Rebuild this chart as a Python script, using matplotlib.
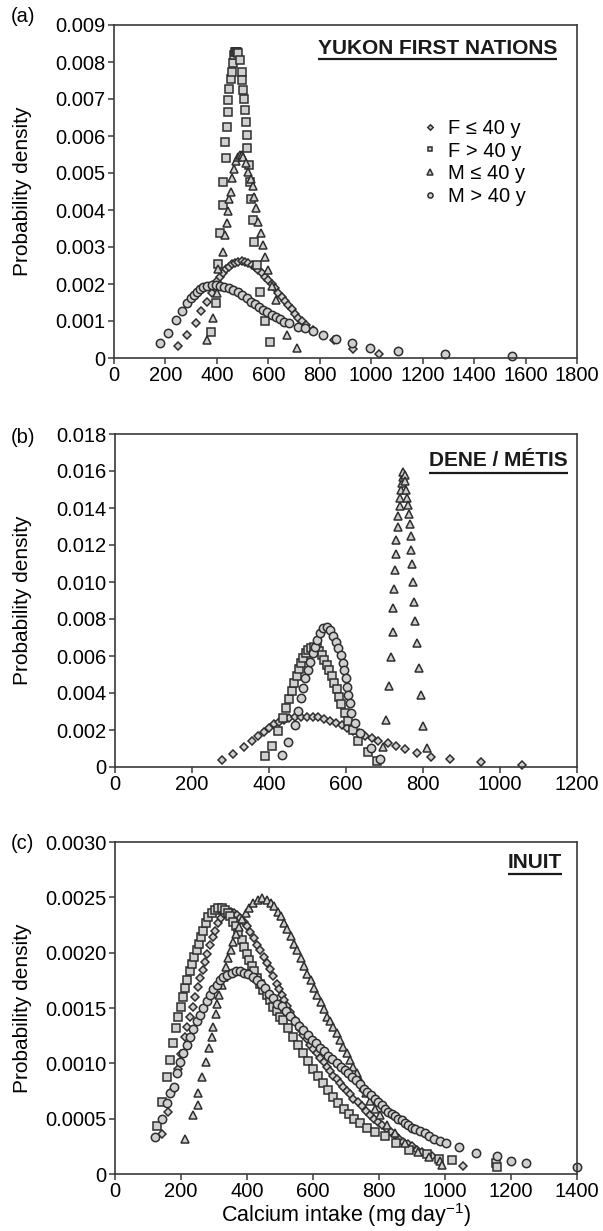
import matplotlib
matplotlib.use("Agg")
import matplotlib.pyplot as plt
from matplotlib.ticker import FixedLocator, FuncFormatter

plt.rcParams['font.family'] = ['Liberation Sans', 'DejaVu Sans']
plt.rcParams['mathtext.fontset'] = 'custom'
plt.rcParams['mathtext.rm'] = 'Liberation Sans'
plt.rcParams['mathtext.it'] = 'Liberation Sans:italic'
plt.rcParams['mathtext.bf'] = 'Liberation Sans:bold'

# ---- data (calcium intake mg/day, probability density) ----
legend_labels = ["F \u2264 40 y", "F > 40 y", "M \u2264 40 y", "M > 40 y"]

# (a) Yukon First Nations
a_f_le40_x = [250, 283, 318, 337, 360, 380, 393, 402, 412, 423, 434, 446, 457, 470, 483, 496, 509, 522, 535, 548,
              561, 574, 587, 600, 613, 626, 639, 652, 665, 678, 691, 704, 717, 730, 745, 775, 856, 929, 1029]
a_f_le40_y = [0.00033, 0.00062, 0.00095, 0.00127, 0.00152, 0.00175, 0.00195, 0.00208, 0.0022, 0.00231, 0.0024,
              0.00247, 0.00253, 0.00258, 0.0026, 0.00262, 0.0026, 0.00256, 0.00251, 0.00245, 0.00238, 0.00229,
              0.0022, 0.00211, 0.002, 0.00188, 0.00177, 0.00166, 0.00155, 0.00143, 0.00132, 0.0012, 0.00109,
              0.00099, 0.00089, 0.00075, 0.00048, 0.00025, 0.00012]
a_f_gt40_x = [377, 397, 406, 412, 423, 425, 435, 433, 438, 442, 444, 448, 455, 457, 461, 466, 470, 474, 478, 483,
              490, 496, 499, 503, 505, 508, 513, 516, 518, 525, 529, 531, 539, 544, 557, 568, 587, 606]
a_f_gt40_y = [0.00071, 0.00148, 0.00254, 0.00339, 0.00414, 0.00477, 0.0054, 0.00585, 0.00625, 0.00666, 0.00697,
              0.00726, 0.00753, 0.00774, 0.00796, 0.00819, 0.00826, 0.00828, 0.00827, 0.00823, 0.00805, 0.00774,
              0.00751, 0.00724, 0.00699, 0.0067, 0.00639, 0.00603, 0.00567, 0.00521, 0.00477, 0.00429, 0.00373,
              0.00314, 0.00251, 0.00179, 0.001, 0.00044]
a_m_le40_x = [360, 384, 399, 406, 423, 432, 438, 442, 448, 453, 460, 468, 476, 483, 490, 497, 503, 513, 522, 531,
              539, 544, 552, 561, 570, 578, 587, 598, 613, 629, 674, 713]
a_m_le40_y = [0.00049, 0.00107, 0.00175, 0.0024, 0.00287, 0.00332, 0.00366, 0.00398, 0.00429, 0.0045, 0.00486,
              0.00512, 0.00532, 0.00544, 0.00549, 0.00549, 0.00544, 0.00526, 0.00504, 0.00485, 0.00465, 0.00436,
              0.00405, 0.00368, 0.00337, 0.00305, 0.00274, 0.00238, 0.00195, 0.00157, 0.00062, 0.00026]
a_m_gt40_x = [179, 211, 241, 263, 283, 298, 311, 321, 334, 347, 363, 380, 397, 412, 429, 446, 464, 481, 499, 516,
              533, 548, 564, 581, 596, 613, 630, 645, 662, 682, 717, 743, 775, 814, 865, 925, 997, 1104, 1287, 1546]
a_m_gt40_y = [0.0004, 0.00067, 0.00103, 0.00127, 0.00148, 0.00161, 0.0017, 0.00179, 0.00186, 0.00193, 0.00195,
              0.00197, 0.00197, 0.00195, 0.00193, 0.0019, 0.00184, 0.00178, 0.0017, 0.00161, 0.00152, 0.00146,
              0.00139, 0.0013, 0.00123, 0.00116, 0.0011, 0.00105, 0.00098, 0.00094, 0.00085, 0.0008, 0.00073,
              0.00062, 0.00052, 0.00041, 0.00028, 0.0002, 0.0001, 0.00005]

# (b) Dene / Metis
b_f_le40_x = [277, 306, 334, 357, 372, 387, 400, 413, 426, 439, 453, 468, 482, 498, 514, 528, 543, 558, 574, 589,
              603, 619, 634, 649, 667, 684, 708, 730, 754, 784, 820, 870, 951, 1056]
b_f_le40_y = [0.00036, 0.0007, 0.00106, 0.00142, 0.00165, 0.00188, 0.0021, 0.00232, 0.00245, 0.00254, 0.00263,
              0.00268, 0.00272, 0.00272, 0.00272, 0.00268, 0.00261, 0.0025, 0.0024, 0.00227, 0.00212, 0.00196,
              0.00182, 0.00168, 0.00155, 0.00142, 0.00128, 0.00114, 0.00096, 0.00077, 0.00056, 0.00042, 0.00027,
              0.00013]
b_f_gt40_x = [390, 407, 424, 436, 444, 453, 459, 466, 472, 478, 483, 489, 495, 502, 509, 517, 524, 531, 537, 543,
              550, 556, 563, 569, 576, 582, 588, 597, 606, 619, 632, 658, 681]
b_f_gt40_y = [0.00059, 0.00114, 0.00196, 0.00263, 0.00317, 0.00366, 0.00413, 0.00452, 0.00492, 0.00528, 0.0056,
              0.00587, 0.00614, 0.00632, 0.00641, 0.0065, 0.00641, 0.00629, 0.00605, 0.00578, 0.00551, 0.00524,
              0.00492, 0.00456, 0.0042, 0.0038, 0.00341, 0.00294, 0.0025, 0.002, 0.00142, 0.00083, 0.00034]
b_m_le40_x = [697, 704, 712, 717, 721, 723, 725, 727, 729, 731, 734, 736, 739, 741, 743, 745, 747, 749, 752, 754,
              757, 759, 762, 764, 766, 768, 770, 772, 774, 777, 779, 784, 789, 794, 801, 811]
b_m_le40_y = [0.0011, 0.00254, 0.00438, 0.00596, 0.00731, 0.00858, 0.00964, 0.01067, 0.0115, 0.01229, 0.01297,
              0.01355, 0.01409, 0.01454, 0.01499, 0.01535, 0.01568, 0.01593, 0.0158, 0.01544, 0.01499, 0.01454,
              0.01418, 0.01369, 0.01314, 0.01247, 0.01175, 0.01097, 0.01, 0.00894, 0.00791, 0.00669, 0.00534,
              0.00389, 0.00222, 0.00101]
b_m_gt40_x = [433, 450, 468, 476, 482, 488, 494, 500, 506, 513, 519, 525, 532, 541, 550, 558, 567, 574, 580, 586,
              591, 596, 599, 603, 606, 610, 614, 623, 636, 664, 688]
b_m_gt40_y = [0.00065, 0.00137, 0.00227, 0.00304, 0.00371, 0.00425, 0.00479, 0.00524, 0.00569, 0.00614, 0.0065,
              0.00686, 0.00723, 0.0075, 0.00758, 0.00741, 0.00708, 0.00677, 0.00641, 0.00605, 0.0056, 0.00524,
              0.00479, 0.00434, 0.00389, 0.00344, 0.00294, 0.00236, 0.00182, 0.00101, 0.00042]

# (c) Inuit
c_f_le40_x = [143, 161, 175, 190, 200, 212, 219, 227, 235, 242, 251, 258, 266, 273, 280, 288, 296, 303, 311, 320,
              330, 340, 351, 360, 370, 380, 390, 400, 410, 420, 430, 440, 450, 460, 470, 480, 490, 497, 505, 512,
              520, 530, 540, 550, 561, 571, 581, 591, 601, 611, 621, 632, 642, 652, 662, 672, 682, 692, 702, 712,
              722, 735, 748, 760, 773, 786, 798, 810, 823, 835, 848, 861, 874, 887, 899, 914, 929, 960, 1054]
c_f_le40_y = [0.00036, 0.00056, 0.00076, 0.00095, 0.00108, 0.00124, 0.00133, 0.00142, 0.00151, 0.0016, 0.00169,
              0.00177, 0.00184, 0.00192, 0.00199, 0.00207, 0.00214, 0.0022, 0.00227, 0.00231, 0.00235, 0.00236,
              0.00237, 0.00236, 0.00234, 0.00231, 0.00228, 0.00224, 0.00219, 0.00213, 0.00207, 0.00202, 0.00196,
              0.00191, 0.00185, 0.00179, 0.00172, 0.00167, 0.00162, 0.00157, 0.00152, 0.00146, 0.00141, 0.00136,
              0.00131, 0.00126, 0.00122, 0.00117, 0.00113, 0.00109, 0.00105, 0.00101, 0.00097, 0.00093, 0.00089,
              0.00086, 0.00082, 0.00079, 0.00075, 0.00072, 0.00068, 0.00065, 0.00061, 0.00057, 0.00053, 0.0005,
              0.00047, 0.00044, 0.00041, 0.00038, 0.00035, 0.00032, 0.00029, 0.00027, 0.00025, 0.00022, 0.0002,
              0.00016, 0.00007]
c_f_gt40_x = [126, 143, 157, 167, 175, 185, 192, 199, 207, 212, 219, 227, 234, 240, 248, 255, 261, 268, 275, 283,
              293, 303, 313, 323, 333, 341, 348, 358, 367, 374, 384, 391, 399, 407, 414, 422, 431, 439, 449, 460,
              470, 480, 490, 500, 510, 525, 540, 555, 571, 586, 601, 616, 631, 646, 662, 677, 694, 709, 724, 742,
              765, 788, 818, 852, 892, 945, 983, 1022, 1155, 1157]
c_f_gt40_y = [0.00043, 0.00065, 0.00088, 0.00103, 0.00118, 0.00132, 0.00142, 0.00151, 0.0016, 0.00168, 0.00175,
              0.00183, 0.0019, 0.00196, 0.00202, 0.00208, 0.00214, 0.0022, 0.00227, 0.00232, 0.00236, 0.00239,
              0.0024, 0.0024, 0.00239, 0.00236, 0.00233, 0.00228, 0.00224, 0.00218, 0.00211, 0.00205, 0.00199,
              0.00193, 0.00188, 0.00183, 0.00177, 0.00172, 0.00166, 0.00162, 0.00157, 0.00151, 0.00147, 0.00142,
              0.00139, 0.00132, 0.00124, 0.00117, 0.00109, 0.00102, 0.00095, 0.00089, 0.00082, 0.00076, 0.0007,
              0.00064, 0.00059, 0.00054, 0.0005, 0.00046, 0.00042, 0.00038, 0.00034, 0.00028, 0.00022, 0.00018,
              0.00014, 0.00013, 0.0001, 0.00006]
c_m_le40_x = [213, 236, 250, 251, 263, 276, 286, 293, 298, 306, 310, 316, 323, 330, 336, 343, 351, 358, 367, 376,
              386, 396, 407, 419, 432, 446, 460, 472, 483, 493, 502, 512, 522, 532, 542, 552, 563, 573, 583, 593,
              603, 613, 623, 633, 643, 652, 662, 672, 682, 692, 702, 712, 722, 732, 742, 752, 761, 773, 788, 803,
              823, 848, 879, 919, 952, 986, 990]
c_m_le40_y = [0.00032, 0.00053, 0.00073, 0.00062, 0.00088, 0.00101, 0.00114, 0.00124, 0.00133, 0.00145, 0.00154,
              0.00162, 0.00171, 0.00178, 0.00187, 0.00195, 0.00202, 0.0021, 0.00217, 0.00223, 0.0023, 0.00236,
              0.0024, 0.00245, 0.00248, 0.00249, 0.00248, 0.00245, 0.00242, 0.00237, 0.00233, 0.00227, 0.00221,
              0.00215, 0.00208, 0.00202, 0.00195, 0.00188, 0.00181, 0.00175, 0.00168, 0.00162, 0.00155, 0.00149,
              0.00142, 0.00138, 0.00133, 0.00127, 0.00121, 0.00115, 0.00109, 0.00103, 0.00097, 0.00091, 0.00085,
              0.00079, 0.00073, 0.00066, 0.00059, 0.00053, 0.00044, 0.00037, 0.00028, 0.0002, 0.00015, 0.00012,
              0.00008]
c_m_gt40_x = [120, 143, 157, 166, 178, 187, 197, 207, 217, 227, 237, 248, 258, 268, 278, 288, 298, 308, 318, 328,
              340, 354, 367, 379, 392, 404, 417, 429, 442, 455, 468, 480, 492, 505, 518, 530, 545, 558, 571, 584,
              596, 609, 621, 634, 646, 659, 672, 685, 697, 707, 717, 730, 742, 754, 765, 777, 788, 798, 808, 818,
              828, 838, 848, 858, 869, 879, 889, 899, 909, 924, 939, 953, 968, 985, 1002, 1042, 1094, 1159, 1199,
              1245, 1400]
c_m_gt40_y = [0.00033, 0.0005, 0.00064, 0.00073, 0.00079, 0.00091, 0.00101, 0.00109, 0.00117, 0.00124, 0.00131,
              0.00138, 0.00144, 0.0015, 0.00156, 0.00162, 0.00167, 0.00171, 0.00175, 0.00178, 0.0018, 0.00182,
              0.00183, 0.00183, 0.00182, 0.00181, 0.00178, 0.00175, 0.00172, 0.00168, 0.00163, 0.00159, 0.00154,
              0.00152, 0.00147, 0.00143, 0.00138, 0.00134, 0.0013, 0.00126, 0.00121, 0.00118, 0.00114, 0.00111,
              0.00107, 0.00104, 0.001, 0.00097, 0.00094, 0.00091, 0.00088, 0.00085, 0.00081, 0.00077, 0.00074,
              0.00071, 0.00068, 0.00065, 0.00062, 0.00059, 0.00056, 0.00054, 0.00052, 0.0005, 0.00049, 0.00046,
              0.00044, 0.00042, 0.00041, 0.00039, 0.00037, 0.00034, 0.00032, 0.0003, 0.00028, 0.00024, 0.00019,
              0.00016, 0.00012, 0.0001, 0.00006]

panels = [
    dict(tag="(a)", title="YUKON FIRST NATIONS", xmax=1800, ymax=0.009, ystep=0.001, ydec=3,
         series=[(a_f_le40_x, a_f_le40_y), (a_f_gt40_x, a_f_gt40_y), (a_m_le40_x, a_m_le40_y), (a_m_gt40_x, a_m_gt40_y)]),
    dict(tag="(b)", title="DENE / M\u00c9TIS", xmax=1200, ymax=0.018, ystep=0.002, ydec=3,
         series=[(b_f_le40_x, b_f_le40_y), (b_f_gt40_x, b_f_gt40_y), (b_m_le40_x, b_m_le40_y), (b_m_gt40_x, b_m_gt40_y)]),
    dict(tag="(c)", title="INUIT", xmax=1400, ymax=0.003, ystep=0.0005, ydec=4,
         series=[(c_f_le40_x, c_f_le40_y), (c_f_gt40_x, c_f_gt40_y), (c_m_le40_x, c_m_le40_y), (c_m_gt40_x, c_m_gt40_y)]),
]

# ---- styling ----
W, H = 603, 1231
boxes = [(114, 25, 577, 358), (115, 434, 577, 767), (115, 842, 577, 1174)]  # px: left, top, right, bottom
title_pos = [(0.957, 0.930, 0.898), (0.980, 0.920, 0.882), (0.968, 0.938, 0.904)]  # right x, text y, underline y
tag_y = [16.7, 437.5, 843.5]
markers = [dict(marker='D', ms=4.4), dict(marker='s', ms=5.6), dict(marker='^', ms=6.2), dict(marker='o', ms=6.0)]
face, edge = '#d0d0d0', '#2e2e2e'
axis_col = '#3a3a3a'

fig = plt.figure(figsize=(W / 100, H / 100), dpi=100)

for i, p in enumerate(panels):
    l, t, r, b = boxes[i]
    ax = fig.add_axes([l / W, 1 - b / H, (r - l) / W, (b - t) / H])
    handles = []
    for (xs, ys), mk in zip(p["series"], markers):
        h, = ax.plot(xs, ys, linestyle='none', mfc=face, mec=edge, mew=1.1, clip_on=False, **mk)
        handles.append(h)

    ax.set_xlim(0, p["xmax"])
    ax.set_ylim(0, p["ymax"])
    ax.xaxis.set_major_locator(FixedLocator(list(range(0, p["xmax"] + 1, 200))))
    nt = int(round(p["ymax"] / p["ystep"]))
    ax.yaxis.set_major_locator(FixedLocator([k * p["ystep"] for k in range(nt + 1)]))
    dec = p["ydec"]
    ax.yaxis.set_major_formatter(FuncFormatter(lambda v, pos, d=dec: "0" if abs(v) < 1e-12 else f"{v:.{d}f}"))
    ax.tick_params(direction='out', length=4, width=1.1, color=axis_col, labelsize=14.5, pad=2,
                   top=False, right=False)
    for s in ax.spines.values():
        s.set_color(axis_col)
        s.set_linewidth(1.2)
    ax.set_ylabel("Probability density", fontsize=15)
    ax.yaxis.set_label_coords((32 - l) / (r - l), 0.5)

    rx, ty, uy = title_pos[i]
    txt = ax.text(rx, ty, p["title"], transform=ax.transAxes, ha='right', va='center',
                  fontsize=15, fontweight='bold', color='#1a1a1a')
    fig.canvas.draw()
    bb = txt.get_window_extent().transformed(ax.transAxes.inverted())
    ax.plot([bb.x0, bb.x1], [uy, uy], transform=ax.transAxes, color='#1a1a1a', lw=1.6,
            solid_capstyle='butt', clip_on=False)

    fig.text(22.8 / W, 1 - tag_y[i] / H, p["tag"], ha='center', va='center', fontsize=14.5)

    if i == 0:
        ax.legend(handles, legend_labels, loc='upper left', bbox_to_anchor=(0.665, 0.718),
                  frameon=False, fontsize=14.5, markerscale=0.62, handlelength=0.8, handletextpad=0.5,
                  labelspacing=0.18, borderpad=0, borderaxespad=0)
    if i == 2:
        ax.set_xlabel(r"Calcium intake (mg day$^{-1}$)", fontsize=15.5, labelpad=0)

fig.savefig("out.png", dpi=100)
